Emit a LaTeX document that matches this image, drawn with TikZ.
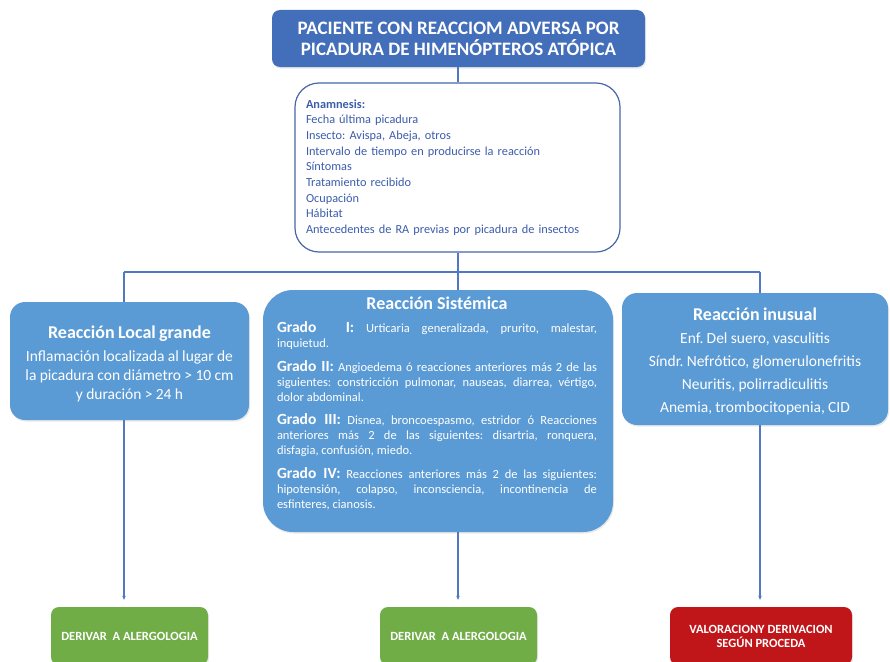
\documentclass[tikz,border=0pt]{standalone}
\usepackage{fontspec}
\setmainfont{Carlito}
\usetikzlibrary{arrows.meta,shadows}
\definecolor{topblue}{RGB}{66,110,186}
\definecolor{boxblue}{RGB}{91,155,213}
\definecolor{linecol}{RGB}{80,120,195}
\definecolor{anaborder}{RGB}{72,102,170}
\definecolor{anatext}{RGB}{60,92,172}
\definecolor{greenbox}{RGB}{112,173,71}
\definecolor{redbox}{RGB}{192,22,26}
\tikzset{
  softshadow/.style={drop shadow={opacity=0.18, shadow xshift=1pt, shadow yshift=-1.5pt}},
  topbox/.style={draw=none, fill=topblue, rounded corners=8pt, text=white, align=center, inner sep=0pt, softshadow},
  anabox/.style={draw=anaborder, line width=1.2pt, fill=white, rounded corners=24pt, text=anatext, align=left},
  reacbox/.style={draw=none, fill=boxblue, rounded corners=15pt, text=white, align=center, inner sep=0pt, softshadow},
  boxtext/.style={text=white, align=center, inner sep=0pt},
  endbox/.style={draw=none, rounded corners=8pt, text=white, align=center, inner sep=0pt, softshadow,
     font=\fontsize{12.5}{14}\selectfont\bfseries},
  conn/.style={draw=linecol, line width=1.1pt},
  arr/.style={conn, -{Stealth[length=4pt,width=3.5pt]}, shorten >=7pt},
}
\newcommand{\gradolbl}[1]{{\fontsize{15.5}{15}\selectfont\bfseries #1}}
\begin{document}
\frenchspacing
\begin{tikzpicture}[x=1pt,y=-1pt]
\clip (0,0) rectangle (890,661);
\fill[white] (0,0) rectangle (890,661);

% top
\node[topbox, minimum width=373pt, minimum height=57pt,
  font=\fontsize{19}{20.7}\selectfont\bfseries] (top) at (458.5,38.5)
  {PACIENTE CON REACCIOM ADVERSA POR\\PICADURA DE HIMENÓPTEROS ATÓPICA};

% anamnesis
\node[anabox, minimum height=169pt, text width=303pt, inner xsep=11pt,
  font=\fontsize{12.3}{15.7}\selectfont] (ana) at (457.5,167.5)
  {\textbf{Anamnesis:}\\
   Fecha última picadura\\
   Insecto: Avispa, Abeja, otros\\
   Intervalo de tiempo en producirse la reacción\\
   Síntomas\\
   Tratamiento recibido\\
   Ocupación\\
   Hábitat\\
   Antecedentes de RA previas por picadura de insectos};

% reaction boxes
\node[reacbox, minimum width=239pt, minimum height=118pt] (loc) at (129.5,361) {};
\node[boxtext, text width=235pt] (loctxt) at (129.5,363.5)
  {{\fontsize{18}{22}\selectfont\bfseries Reacción Local grande\par}
   \vspace{4pt}
   {\fontsize{15.5}{19}\selectfont Inflamación localizada al lugar de\\
   la picadura con diámetro > 10 cm\\
   y duración > 24 h\par}};

\node[reacbox, minimum width=350pt, minimum height=242pt, rounded corners=30pt] (sis) at (438,411) {};
\node[boxtext, text width=320pt, align=justify, anchor=north] (sistxt) at (437,296.5)
  {\setlength{\parindent}{0pt}%
   {\centering\fontsize{18}{22}\selectfont\bfseries Reacción Sistémica\par}%
   \fontsize{12.5}{15}\selectfont\setlength{\parskip}{8.5pt}%
   \gradolbl{Grado\ \ I:} Urticaria generalizada, prurito, malestar,\linebreak inquietud.\par
   \gradolbl{Grado II:} Angioedema ó reacciones anteriores más 2 de las\linebreak siguientes: constricción pulmonar, nauseas, diarrea, vértigo,\linebreak dolor abdominal.\par
   \gradolbl{Grado III:} Disnea, broncoespasmo, estridor ó Reacciones\linebreak anteriores más 2 de las siguientes: disartria, ronquera,\linebreak disfagia, confusión, miedo.\par
   \gradolbl{Grado IV:} Reacciones anteriores más 2 de las siguientes:\linebreak hipotensión, colapso, inconsciencia, incontinencia de\linebreak esfinteres, cianosis.\par};

\node[reacbox, minimum width=266pt, minimum height=132pt] (inu) at (755,359) {};
\node[boxtext, text width=260pt] (inutxt) at (755,361.5)
  {{\fontsize{18}{22}\selectfont\bfseries Reacción inusual\par}
   {\fontsize{15.5}{23}\selectfont Enf. Del suero, vasculitis\\
   Síndr. Nefrótico, glomerulonefritis\\
   Neuritis, polirradiculitis\\
   Anemia, trombocitopenia, CID\par}};

% end boxes
\node[endbox, fill=greenbox, minimum width=157pt, minimum height=58pt] (g1) at (129.5,636) {DERIVAR\ \ A ALERGOLOGIA};
\node[endbox, fill=greenbox, minimum width=157pt, minimum height=58pt] (g2) at (458.5,636) {DERIVAR\ \ A ALERGOLOGIA};
\node[endbox, fill=redbox, minimum width=182pt, minimum height=58pt] (r1) at (761,636) {VALORACIONY DERIVACION\\SEGÚN PROCEDA};

% connectors
\coordinate (bus) at (458,272);
\coordinate (bl) at (124,272);
\coordinate (br) at (760,272);
\draw[conn] (top.south -| bus) -- (ana.north -| bus);
\draw[conn] (ana.south -| bus) -- (bus);
\draw[conn] (bl) -- (br);
\draw[conn] (bl) -- (bl |- loc.north);
\draw[conn] (bus) -- (bus |- sis.north);
\draw[conn] (br) -- (br |- inu.north);
\draw[arr] (bl |- loc.south) -- (bl |- g1.north);
\draw[arr] (bus |- sis.south) -- (bus |- g2.north);
\draw[arr] (br |- inu.south) -- (br |- r1.north);
\end{tikzpicture}
\end{document}
